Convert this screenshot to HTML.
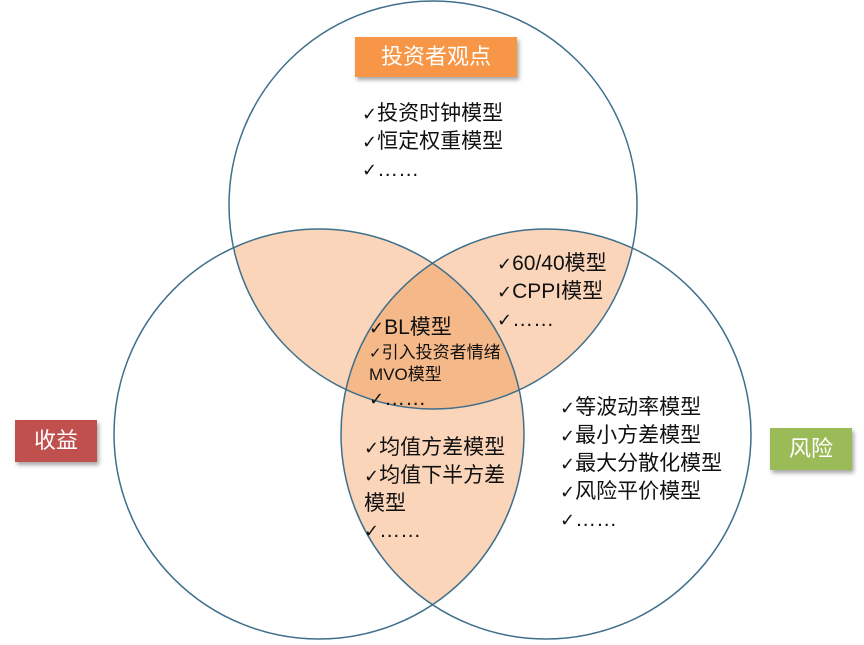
<!DOCTYPE html>
<html><head><meta charset="utf-8"><style>
html,body{margin:0;padding:0;background:#fff;}
body{width:864px;height:645px;position:relative;overflow:hidden;font-family:"Liberation Sans","Noto Sans CJK SC",sans-serif;}
.t{position:absolute;font-size:21px;color:#111;line-height:27px;white-space:nowrap;}
.t b{font-weight:normal;font-family:"DejaVu Sans",sans-serif;font-size:18px;}
.s{font-size:17px;line-height:22px;}
.s b{font-size:15px;}
.box{position:absolute;color:#fff;font-size:22px;text-align:center;box-shadow:2px 3px 4px rgba(0,0,0,0.35);}
</style></head><body>
<svg width="864" height="645" style="position:absolute;left:0;top:0">
<defs>
<clipPath id="cA"><circle cx="433" cy="205" r="204"/></clipPath>
<clipPath id="cB"><circle cx="319" cy="434" r="205"/></clipPath>
<clipPath id="cC"><circle cx="546" cy="434" r="205"/></clipPath>
</defs>
<g clip-path="url(#cA)"><circle cx="319" cy="434" r="205" fill="#fad5b9"/><circle cx="546" cy="434" r="205" fill="#fad5b9"/></g>
<g clip-path="url(#cB)"><circle cx="546" cy="434" r="205" fill="#fad5b9"/></g>
<g clip-path="url(#cA)"><g clip-path="url(#cB)"><circle cx="546" cy="434" r="205" fill="#f5b888"/></g></g>
<g fill="none" stroke="#3f6f8b" stroke-width="1.5">
<circle cx="433" cy="205" r="204"/>
<circle cx="319" cy="434" r="205"/>
<circle cx="546" cy="434" r="205"/>
</g>
</svg>
<div class="box" style="left:355px;top:37px;width:162px;height:40px;line-height:40px;background:#f79646;">投资者观点</div>
<div class="box" style="left:15px;top:420px;width:82px;height:42px;line-height:42px;background:#c0504d;">收益</div>
<div class="box" style="left:770px;top:428px;width:82px;height:42px;line-height:42px;background:#9bbb59;">风险</div>
<div class="t" style="left:362px;top:100px"><b>✓</b>投资时钟模型<br><b>✓</b>恒定权重模型<br><b>✓</b>……</div>
<div class="t" style="left:497px;top:250px"><b>✓</b>60/40模型<br><b>✓</b>CPPI模型<br><b>✓</b>……</div>
<div class="t" style="left:369px;top:314px"><b>✓</b>BL模型</div>
<div class="t s" style="left:369px;top:342px"><b>✓</b>引入投资者情绪<br>MVO模型</div>
<div class="t" style="left:369px;top:385px"><b>✓</b>……</div>
<div class="t" style="left:364px;top:434px"><b>✓</b>均值方差模型<br><b>✓</b>均值下半方差<br>模型<br><b>✓</b>……</div>
<div class="t" style="left:560px;top:394px"><b>✓</b>等波动率模型<br><b>✓</b>最小方差模型<br><b>✓</b>最大分散化模型<br><b>✓</b>风险平价模型<br><b>✓</b>……</div>
</body></html>
